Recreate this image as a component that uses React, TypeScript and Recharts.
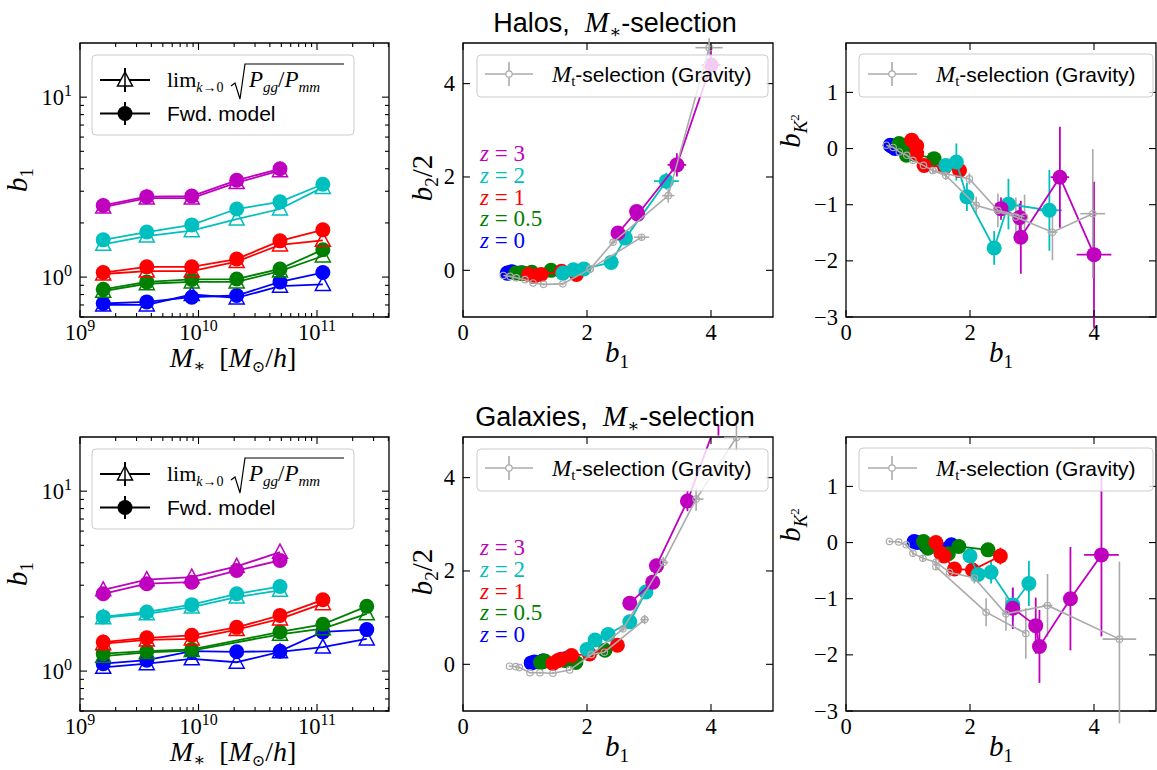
import React from 'react';
import { ScatterChart, Scatter, XAxis, YAxis, ErrorBar, ReferenceArea } from 'recharts';

const SERIF = '"Liberation Serif", "DejaVu Serif", serif';
const SANS = '"Liberation Sans", "DejaVu Sans", sans-serif';

const COLORS = {
  z0: '#0000ff',
  z05: '#008000',
  z1: '#ff0000',
  z2: '#00bfbf',
  z3: '#bf00bf',
  grav: '#aaaaaa',
};

// stellar mass bins [M_sun/h]
const HALO_M = [1.57e9, 3.66e9, 8.77e9, 2.1e10, 4.87e10, 1.12e11];
const GAL_M = [1.57e9, 3.66e9, 8.77e9, 2.1e10, 4.87e10, 1.12e11, 2.63e11];
const GAL_M_Z05 = [1.57e9, 3.66e9, 8.77e9, 4.87e10, 1.12e11, 2.63e11];

// ---- halos: b1 from forward model (dots) and lim sqrt(Pgg/Pmm) (triangles)
const haloB1_z0 = [0.713, 0.728, 0.773, 0.79, 0.94, 1.06];
const haloB1_z05 = [0.855, 0.94, 0.97, 0.975, 1.11, 1.42];
const haloB1_z1 = [1.06, 1.14, 1.14, 1.26, 1.59, 1.83];
const haloB1_z2 = [1.61, 1.78, 1.95, 2.39, 2.62, 3.28];
const haloB1_z3 = [2.5, 2.8, 2.82, 3.45, 4.0];
const haloPk_z0 = [0.7, 0.7, 0.8, 0.766, 0.89, 0.91];
const haloPk_z05 = [0.835, 0.918, 0.94, 0.94, 1.08, 1.31];
const haloPk_z1 = [1.04, 1.08, 1.08, 1.22, 1.51, 1.6];
const haloPk_z2 = [1.52, 1.69, 1.81, 2.1, 2.39, 3.15];
const haloPk_z3 = [2.45, 2.75, 2.75, 3.35, 3.9];

// halos: b2/2
const haloB2_z0 = [-0.06, -0.06, -0.04, -0.03, -0.05, -0.08];
const haloB2_z05 = [-0.06, -0.07, -0.06, -0.07, -0.04, 0.0];
const haloB2_z1 = [-0.09, -0.12, -0.13, -0.09, -0.02, -0.09];
const haloB2_z2 = [-0.06, 0.01, 0.03, 0.17, 0.69, 1.91];
const haloB2_z3 = [0.8, 1.26, 1.2, 2.26, 4.4];
const haloB2err_z2 = [0.02, 0.02, 0.03, 0.05, 0.08, 0.18];
const haloB2err_z3 = [0.06, 0.12, 0.12, 0.25, 0.35];
const haloB1err_z2 = [0.02, 0.02, 0.02, 0.03, 0.05, 0.2];
const haloB1err_z3 = [0.03, 0.04, 0.04, 0.15, 0.15];

// halos: b_K2
const haloBK_z0 = [0.06, 0.05, 0.02, 0.0, -0.02, -0.05];
const haloBK_z05 = [0.09, 0.06, -0.05, -0.12, -0.1, -0.18];
const haloBK_z1 = [0.15, 0.05, -0.09, -0.3, -0.33, -0.39];
const haloBK_z2 = [-0.3, -0.24, -0.86, -1.77, -0.99, -1.1];
const haloBK_z3 = [-1.07, -1.23, -1.58, -0.51, -1.89];
const haloBKerr_z0 = [0.04, 0.04, 0.05, 0.05, 0.06, 0.08];
const haloBKerr_z05 = [0.04, 0.05, 0.06, 0.07, 0.09, 0.11];
const haloBKerr_z1 = [0.05, 0.06, 0.07, 0.08, 0.1, 0.12];
const haloBKerr_z2 = [0.12, 0.33, 0.25, 0.3, 0.45, 0.72];
const haloBKerr_z3 = [0.2, 0.25, 0.65, 0.9, 1.3];
const haloBKxerr_z3 = [0.03, 0.04, 0.04, 0.15, 0.28];

// halos: M_t-selection (gravity only)
const gravHaloB1_a = [0.65, 0.76, 0.86, 1.0, 1.13, 1.3, 1.61, 2.05, 2.88];
const gravHaloB2_a = [-0.11, -0.13, -0.16, -0.2, -0.27, -0.3, -0.29, 0.03, 0.71];
const gravHaloB2err_a = [0.01, 0.01, 0.01, 0.01, 0.02, 0.02, 0.03, 0.03, 0.06];
const gravHaloB1err_a = [0.01, 0.01, 0.01, 0.01, 0.01, 0.02, 0.02, 0.03, 0.12];
const gravHaloB1_b = [2.05, 2.42, 3.31, 3.97];
const gravHaloB2_b = [0.03, 0.6, 1.6, 4.77];
const gravHaloB2err_b = [0.03, 0.05, 0.15, 0.2];
const gravHaloB1err_b = [0.02, 0.04, 0.1, 0.22];
const gravHaloKB1_a = [0.65, 0.76, 0.86, 0.98, 1.08, 1.25, 1.4, 1.61, 2.1, 2.74, 3.33, 3.98];
const gravHaloK_a = [0.06, 0.02, -0.06, -0.12, -0.21, -0.3, -0.39, -0.48, -1.01, -1.22, -1.49, -1.16];
const gravHaloKerr_a = [0.02, 0.02, 0.03, 0.03, 0.04, 0.05, 0.06, 0.08, 0.15, 0.35, 0.5, 1.15];
const gravHaloKxerr_a = [0.01, 0.01, 0.01, 0.01, 0.01, 0.01, 0.02, 0.02, 0.03, 0.05, 0.08, 0.2];
const gravHaloKB1_b = [1.4, 1.99, 2.45, 2.88];
const gravHaloK_b = [-0.39, -0.54, -1.1, -1.22];
const gravHaloKerr_b = [0.06, 0.1, 0.3, 0.4];

// ---- galaxies: b1
const galB1_z0 = [1.1, 1.15, 1.29, 1.28, 1.29, 1.65, 1.7];
const galB1_z05 = [1.25, 1.29, 1.32, 1.65, 1.82, 2.29];
const galB1_z1 = [1.45, 1.53, 1.58, 1.75, 2.04, 2.49];
const galB1_z2 = [2.0, 2.13, 2.34, 2.69, 2.95];
const galB1_z3 = [2.69, 3.06, 3.12, 3.62, 4.12];
const galPk_z0 = [1.05, 1.1, 1.17, 1.12, 1.28, 1.36, 1.51];
const galPk_z05 = [1.21, 1.27, 1.3, 1.6, 1.72, 2.08];
const galPk_z1 = [1.42, 1.49, 1.51, 1.7, 1.95, 2.37];
const galPk_z2 = [1.98, 2.08, 2.27, 2.58, 2.81];
const galPk_z3 = [2.83, 3.22, 3.33, 3.82, 4.58];

// galaxies: b2/2
const galB2_z0 = [0.03, 0.05, 0.07, 0.06, 0.07, 0.12, 0.1];
const galB2_z05 = [0.04, 0.06, 0.07, 0.08, 0.04, 0.3];
const galB2_z1 = [0.02, 0.08, 0.11, 0.19, 0.22, 0.41];
const galB2_z2 = [0.32, 0.52, 0.64, 0.91, 1.55];
const galB2_z3 = [1.31, 1.76, 2.11, 3.5, 5.3];
const galB2err_z2 = [0.03, 0.04, 0.05, 0.07, 0.1];
const galB2err_z3 = [0.08, 0.1, 0.15, 0.22, 0.4];
const galB1err_z3 = [0.03, 0.04, 0.04, 0.08, 0.15];

// galaxies: b_K2
const galBK_z0 = [0.02, 0.0, -0.05, -0.03, -0.06, -0.1, -0.04];
const galBK_z05 = [0.02, -0.04, -0.1, -0.2, -0.07, -0.13];
const galBK_z1 = [0.0, -0.19, -0.24, -0.47, -0.49, -0.24];
const galBK_z2 = [-0.24, -0.57, -0.53, -1.11, -0.73];
const galBK_z3 = [-1.17, -1.48, -1.85, -1.0, -0.22];
const galBKerr_z0 = [0.03, 0.04, 0.04, 0.05, 0.05, 0.07, 0.08];
const galBKerr_z05 = [0.04, 0.05, 0.06, 0.08, 0.08, 0.12];
const galBKerr_z1 = [0.05, 0.06, 0.07, 0.08, 0.1, 0.15];
const galBKerr_z2 = [0.1, 0.15, 0.2, 0.3, 0.4];
const galBKerr_z3 = [0.37, 0.5, 0.65, 0.92, 1.45];
const galBKxerr_z3 = [0.04, 0.05, 0.05, 0.1, 0.28];

// galaxies: M_t-selection (gravity only)
const gravGalB1_a = [0.75, 0.85, 0.91, 1.08, 1.24, 1.45, 1.72, 2.07, 2.28, 2.93];
const gravGalB2_a = [-0.04, -0.05, -0.07, -0.18, -0.18, -0.19, -0.12, 0.21, 0.26, 0.96];
const gravGalB2err_a = [0.01, 0.01, 0.01, 0.01, 0.02, 0.02, 0.02, 0.03, 0.04, 0.1];
const gravGalB1err_a = [0.01, 0.01, 0.01, 0.01, 0.01, 0.02, 0.02, 0.02, 0.03, 0.07];
const gravGalB1_b = [2.07, 2.58, 3.23, 3.76, 4.41];
const gravGalB2_b = [0.21, 0.76, 2.18, 3.54, 4.86];
const gravGalB2err_b = [0.03, 0.06, 0.12, 0.25, 0.3];
const gravGalB1err_b = [0.02, 0.04, 0.08, 0.12, 0.2];
const gravGalKB1_a = [0.7, 0.85, 0.97, 1.08, 1.24, 1.45, 1.67, 2.07, 2.58, 3.25, 4.41];
const gravGalK_a = [0.02, 0.01, -0.04, -0.19, -0.28, -0.35, -0.53, -0.63, -1.27, -1.12, -1.72];
const gravGalKerr_a = [0.02, 0.02, 0.03, 0.04, 0.05, 0.06, 0.08, 0.1, 0.3, 0.56, [1.5, 1.38]];
const gravGalKxerr_a = [0.01, 0.01, 0.01, 0.01, 0.01, 0.02, 0.02, 0.03, 0.05, 0.08, 0.27];
const gravGalKB1_b = [1.45, 2.26, 2.9];
const gravGalK_b = [-0.43, -1.24, -1.62];
const gravGalKerr_b = [0.06, 0.25, 0.45];

// axis ticks
const LOG_X_TICKS = [1e9, 2e9, 3e9, 4e9, 5e9, 6e9, 7e9, 8e9, 9e9, 1e10, 2e10, 3e10, 4e10, 5e10, 6e10, 7e10, 8e10, 9e10, 1e11, 2e11, 3e11, 4e11];
const LOG_Y_TICKS = [0.6, 0.7, 0.8, 0.9, 1, 2, 3, 4, 5, 6, 7, 8, 9, 10];
const B1_TICKS = [0, 2, 4];
const B2_TICKS = [0, 2, 4];
const BK_TICKS = [-3, -2, -1, 0, 1];

type Pt = { x: number; y: number; ex: any; ey: any };
type Spec = { data: Pt[]; color: string; marker: 'dot' | 'tri' | 'ring'; lw: number; errX?: boolean; errY?: boolean };

const pts = (xs: number[], ys: number[], ey?: any[], ex?: number[]): Pt[] =>
  ys.map((y, i) => ({ x: xs[i], y, ey: ey ? ey[i] : 0, ex: ex ? ex[i] : 0 }));

const markerFor = (s: Spec) => (p: any) => {
  const { cx, cy } = p;
  if (cx == null || cy == null) return <g />;
  if (s.marker === 'dot') return <circle cx={cx} cy={cy} r={7.5} fill={s.color} />;
  if (s.marker === 'ring') return <circle cx={cx} cy={cy} r={3.2} fill="none" stroke={s.color} strokeWidth={1.2} />;
  return (
    <polygon
      points={`${cx},${cy - 8} ${cx - 7.5},${cy + 6} ${cx + 7.5},${cy + 6}`}
      fill="none"
      stroke={s.color}
      strokeWidth={1.5}
    />
  );
};

const TICK = { stroke: '#000', strokeWidth: 1.1 };
const TICK_FONT = 22.5;

const pow10Label = (v: number) => {
  const e = Math.log10(v);
  if (Math.abs(e - Math.round(e)) > 1e-6) return null;
  return (
    <>
      <tspan>10</tspan>
      <tspan dy={-9} fontSize={16}>{Math.round(e)}</tspan>
    </>
  );
};
const numLabel = (v: number) => (v < 0 ? `\u2212${Math.abs(v)}` : `${v}`);

const xTick = (h: number, fmt: (v: number) => any) => (p: any) => {
  const v = p.payload.value;
  const lab = fmt(v);
  const L = lab !== null ? 7 : 4;
  return (
    <g>
      <line x1={p.x} x2={p.x} y1={p.y} y2={p.y - L} {...TICK} />
      <line x1={p.x} x2={p.x} y1={p.y - h} y2={p.y - h + L} {...TICK} />
      {lab !== null && (
        <text x={p.x} y={p.y + 23} textAnchor="middle" fontFamily={SERIF} fontSize={TICK_FONT} fill="#000">
          {lab}
        </text>
      )}
    </g>
  );
};

const yTick = (w: number, fmt: (v: number) => any) => (p: any) => {
  const v = p.payload.value;
  const lab = fmt(v);
  const L = lab !== null ? 7 : 4;
  return (
    <g>
      <line x1={p.x} x2={p.x + L} y1={p.y} y2={p.y} {...TICK} />
      <line x1={p.x + w} x2={p.x + w - L} y1={p.y} y2={p.y} {...TICK} />
      {lab !== null && (
        <text x={p.x - 8} y={p.y + 7.5} textAnchor="end" fontFamily={SERIF} fontSize={TICK_FONT} fill="#000">
          {lab}
        </text>
      )}
    </g>
  );
};

interface PanelProps {
  left: number;
  top: number;
  w: number;
  h: number;
  xDomain: [number, number];
  yDomain: [number, number];
  log?: boolean;
  xTicks: number[];
  yTicks: number[];
  series: Spec[];
}

const ML = 75;
const MT = 12;
const MR = 12;
const MB = 40;

const Panel: React.FC<PanelProps> = ({ left, top, w, h, xDomain, yDomain, log, xTicks, yTicks, series }) => (
  <div style={{ position: 'absolute', left: left - ML, top: top - MT }}>
    <ScatterChart width={w + ML + MR} height={h + MT + MB} margin={{ top: MT, right: MR, bottom: 0, left: 0 }}>
      <XAxis
        type="number"
        dataKey="x"
        scale={log ? 'log' : 'linear'}
        domain={xDomain}
        allowDataOverflow
        ticks={xTicks}
        interval={0}
        height={MB}
        axisLine={false}
        tickLine={false}
        tickSize={0}
        tickMargin={0}
        tick={xTick(h, log ? pow10Label : numLabel)}
      />
      <YAxis
        type="number"
        dataKey="y"
        scale={log ? 'log' : 'linear'}
        domain={yDomain}
        allowDataOverflow
        ticks={yTicks}
        interval={0}
        width={ML}
        axisLine={false}
        tickLine={false}
        tickSize={0}
        tickMargin={0}
        tick={yTick(w, log ? pow10Label : numLabel)}
      />
      {series.map((s, i) => (
        <Scatter
          key={i}
          data={s.data}
          fill={s.color}
          isAnimationActive={false}
          line={{ stroke: s.color, strokeWidth: s.lw }}
          lineType="joint"
          shape={markerFor(s)}
        >
          {s.errY && <ErrorBar dataKey="ey" direction="y" width={0} stroke={s.color} strokeWidth={s.lw} />}
          {s.errX && <ErrorBar dataKey="ex" direction="x" width={0} stroke={s.color} strokeWidth={s.lw} />}
        </Scatter>
      ))}
      <ReferenceArea
        x1={xDomain[0]}
        x2={xDomain[1]}
        y1={yDomain[0]}
        y2={yDomain[1]}
        fill="none"
        fillOpacity={0}
        stroke="#000"
        strokeWidth={1.3}
      />
    </ScatterChart>
  </div>
);

const dots = (xs: number[], ys: number[], color: string, ey?: any[], ex?: number[]): Spec => ({
  data: pts(xs, ys, ey, ex),
  color,
  marker: 'dot',
  lw: 1.8,
  errY: !!ey,
  errX: !!ex,
});
const tris = (xs: number[], ys: number[], color: string): Spec => ({ data: pts(xs, ys), color, marker: 'tri', lw: 1.8 });
const grav = (xs: number[], ys: number[], ey?: any[], ex?: number[]): Spec => ({
  data: pts(xs, ys, ey, ex),
  color: COLORS.grav,
  marker: 'ring',
  lw: 1.6,
  errY: !!ey,
  errX: !!ex,
});

const LOG_X: [number, number] = [1e9, 4.05e11];
const LOG_Y: [number, number] = [0.6, 20];
const B1_DOM: [number, number] = [0, 5];
const B2_DOM: [number, number] = [-1, 4.87];
const BK_DOM: [number, number] = [-3, 1.88];

const haloLeft: Spec[] = [
  tris(HALO_M, haloPk_z0, COLORS.z0),
  dots(HALO_M, haloB1_z0, COLORS.z0),
  tris(HALO_M, haloPk_z05, COLORS.z05),
  dots(HALO_M, haloB1_z05, COLORS.z05),
  tris(HALO_M, haloPk_z1, COLORS.z1),
  dots(HALO_M, haloB1_z1, COLORS.z1),
  tris(HALO_M, haloPk_z2, COLORS.z2),
  dots(HALO_M, haloB1_z2, COLORS.z2),
  tris(HALO_M, haloPk_z3, COLORS.z3),
  dots(HALO_M, haloB1_z3, COLORS.z3),
];

const galLeft: Spec[] = [
  tris(GAL_M, galPk_z0, COLORS.z0),
  dots(GAL_M, galB1_z0, COLORS.z0),
  tris(GAL_M_Z05, galPk_z05, COLORS.z05),
  dots(GAL_M_Z05, galB1_z05, COLORS.z05),
  tris(GAL_M, galPk_z1, COLORS.z1),
  dots(GAL_M, galB1_z1, COLORS.z1),
  tris(GAL_M, galPk_z2, COLORS.z2),
  dots(GAL_M, galB1_z2, COLORS.z2),
  tris(GAL_M, galPk_z3, COLORS.z3),
  dots(GAL_M, galB1_z3, COLORS.z3),
];

const haloMid: Spec[] = [
  dots(haloB1_z0, haloB2_z0, COLORS.z0),
  dots(haloB1_z05, haloB2_z05, COLORS.z05),
  dots(haloB1_z1, haloB2_z1, COLORS.z1),
  dots(haloB1_z2, haloB2_z2, COLORS.z2, haloB2err_z2, haloB1err_z2),
  dots(haloB1_z3, haloB2_z3, COLORS.z3, haloB2err_z3, haloB1err_z3),
  grav(gravHaloB1_a, gravHaloB2_a, gravHaloB2err_a, gravHaloB1err_a),
  grav(gravHaloB1_b, gravHaloB2_b, gravHaloB2err_b, gravHaloB1err_b),
];

const haloRight: Spec[] = [
  dots(haloB1_z0, haloBK_z0, COLORS.z0, haloBKerr_z0),
  dots(haloB1_z05, haloBK_z05, COLORS.z05, haloBKerr_z05),
  dots(haloB1_z1, haloBK_z1, COLORS.z1, haloBKerr_z1),
  dots(haloB1_z2, haloBK_z2, COLORS.z2, haloBKerr_z2, haloB1err_z2),
  dots(haloB1_z3, haloBK_z3, COLORS.z3, haloBKerr_z3, haloBKxerr_z3),
  grav(gravHaloKB1_a, gravHaloK_a, gravHaloKerr_a, gravHaloKxerr_a),
  grav(gravHaloKB1_b, gravHaloK_b, gravHaloKerr_b),
];

const galMid: Spec[] = [
  dots(galB1_z0, galB2_z0, COLORS.z0),
  dots(galB1_z05, galB2_z05, COLORS.z05),
  dots(galB1_z1, galB2_z1, COLORS.z1),
  dots(galB1_z2, galB2_z2, COLORS.z2, galB2err_z2),
  dots(galB1_z3, galB2_z3, COLORS.z3, galB2err_z3, galB1err_z3),
  grav(gravGalB1_a, gravGalB2_a, gravGalB2err_a, gravGalB1err_a),
  grav(gravGalB1_b, gravGalB2_b, gravGalB2err_b, gravGalB1err_b),
];

const galRight: Spec[] = [
  dots(galB1_z0, galBK_z0, COLORS.z0, galBKerr_z0),
  dots(galB1_z05, galBK_z05, COLORS.z05, galBKerr_z05),
  dots(galB1_z1, galBK_z1, COLORS.z1, galBKerr_z1),
  dots(galB1_z2, galBK_z2, COLORS.z2, galBKerr_z2),
  dots(galB1_z3, galBK_z3, COLORS.z3, galBKerr_z3, galBKxerr_z3),
  grav(gravGalKB1_a, gravGalK_a, gravGalKerr_a, gravGalKxerr_a),
  grav(gravGalKB1_b, gravGalK_b, gravGalKerr_b),
];

const Z_LABELS = [
  { t: '3', c: COLORS.z3 },
  { t: '2', c: COLORS.z2 },
  { t: '1', c: COLORS.z1 },
  { t: '0.5', c: COLORS.z05 },
  { t: '0', c: COLORS.z0 },
];

const LEGEND_BOX = { fill: '#fff', fillOpacity: 0.8, stroke: '#cccccc', strokeWidth: 1 };

// annotations for one row of panels, dy = vertical offset of the row
const RowOverlay: React.FC<{ dy: number; title: string }> = ({ dy, title }) => (
  <g transform={`translate(0, ${dy})`}>
    {/* title */}
    <text x={615} y={32} textAnchor="middle" fontSize={27} fontFamily={SANS} fill="#000">
      {title},{'\u00a0\u00a0'}
      <tspan fontFamily={SERIF} fontStyle="italic" fontSize={29}>M</tspan>
      <tspan fontFamily={SERIF} fontSize={18} dy={6}>{'\u2217'}</tspan>
      <tspan dy={-6}>-selection</tspan>
    </text>

    {/* axis labels, left panel */}
    <text x={233} y={367} textAnchor="middle" fontFamily={SERIF} fontSize={28} fill="#000">
      <tspan fontStyle="italic">M</tspan>
      <tspan fontSize={18} dy={5}>{'\u2217'}</tspan>
      <tspan dy={-5}>{'\u00a0\u00a0['}</tspan>
      <tspan fontStyle="italic">M</tspan>
      <tspan fontSize={16} dy={5}>{'\u2299'}</tspan>
      <tspan dy={-5}>/</tspan>
      <tspan fontStyle="italic">h</tspan>
      <tspan>]</tspan>
    </text>
    <text x={27} y={180} transform="rotate(-90 27 180)" textAnchor="middle" fontFamily={SERIF} fontSize={29} fill="#000">
      <tspan fontStyle="italic">b</tspan>
      <tspan fontSize={19} dy={6}>1</tspan>
    </text>

    {/* middle panel */}
    <text x={617} y={362} textAnchor="middle" fontFamily={SERIF} fontSize={29} fill="#000">
      <tspan fontStyle="italic">b</tspan>
      <tspan fontSize={19} dy={6}>1</tspan>
    </text>
    <text x={432} y={178} transform="rotate(-90 432 178)" textAnchor="middle" fontFamily={SERIF} fontSize={29} fill="#000">
      <tspan fontStyle="italic">b</tspan>
      <tspan fontSize={19} dy={6}>2</tspan>
      <tspan dy={-6}>/2</tspan>
    </text>

    {/* right panel */}
    <text x={1001} y={362} textAnchor="middle" fontFamily={SERIF} fontSize={29} fill="#000">
      <tspan fontStyle="italic">b</tspan>
      <tspan fontSize={19} dy={6}>1</tspan>
    </text>
    <text x={800} y={131} transform="rotate(-90 800 131)" textAnchor="middle" fontFamily={SERIF} fontSize={29} fill="#000">
      <tspan fontStyle="italic">b</tspan>
      <tspan fontSize={19} fontStyle="italic" dy={7}>K</tspan>
      <tspan fontSize={13} dy={-8}>2</tspan>
    </text>

    {/* redshift labels */}
    {Z_LABELS.map((z, i) => (
      <text key={z.t} x={480} y={161 + i * 21.8} fontFamily={SERIF} fontSize={23} fill={z.c}>
        <tspan fontStyle="italic">z</tspan>
        <tspan>{` = ${z.t}`}</tspan>
      </text>
    ))}

    {/* legend, left panel */}
    <rect x={92} y={55} width={262} height={80} rx={4} {...LEGEND_BOX} />
    <line x1={100} x2={150} y1={80} y2={80} stroke="#000" strokeWidth={2} />
    <line x1={125} x2={125} y1={68} y2={92} stroke="#000" strokeWidth={2} />
    <polygon points="125,72 117.5,86 132.5,86" fill="#fff" stroke="#000" strokeWidth={1.5} />
    <line x1={125} x2={125} y1={72} y2={92} stroke="#000" strokeWidth={1.5} />
    <text x={167} y={87} fontFamily={SERIF} fontSize={22} fill="#000">
      <tspan>lim</tspan>
      <tspan fontSize={14} dy={5}>
        <tspan fontStyle="italic">k</tspan>
        {'\u21920'}
      </tspan>
    </text>
    <path d="M231,86 L235,83 L240,99 L245,64 L344,64" fill="none" stroke="#000" strokeWidth={1.2} />
    <text x={249} y={87} fontFamily={SERIF} fontSize={23} fill="#000">
      <tspan fontStyle="italic">P</tspan>
      <tspan fontSize={15} fontStyle="italic" dy={5}>gg</tspan>
      <tspan dy={-5}>/</tspan>
      <tspan fontStyle="italic">P</tspan>
      <tspan fontSize={15} fontStyle="italic" dy={5}>mm</tspan>
    </text>
    <line x1={100} x2={150} y1={113.5} y2={113.5} stroke="#000" strokeWidth={2} />
    <line x1={125} x2={125} y1={102} y2={125} stroke="#000" strokeWidth={2} />
    <circle cx={125} cy={113.5} r={7.5} fill="#000" />
    <text x={167} y={121} fontFamily={SANS} fontSize={21} fill="#000">Fwd. model</text>

    {/* legend, middle panel */}
    <rect x={477} y={55} width={291} height={42} rx={4} {...LEGEND_BOX} />
    <line x1={485} x2={533} y1={74} y2={74} stroke={COLORS.grav} strokeWidth={1.6} />
    <line x1={509} x2={509} y1={62} y2={86} stroke={COLORS.grav} strokeWidth={1.6} />
    <circle cx={509} cy={74} r={3.2} fill="#fff" stroke={COLORS.grav} strokeWidth={1.2} />
    <text x={552} y={82} fontFamily={SANS} fontSize={21} fill="#000">
      <tspan fontFamily={SERIF} fontStyle="italic" fontSize={23}>M</tspan>
      <tspan fontFamily={SERIF} fontSize={15} dy={4}>t</tspan>
      <tspan dy={-4}>-selection (Gravity)</tspan>
    </text>

    {/* legend, right panel */}
    <rect x={859} y={54} width={294} height={43} rx={4} {...LEGEND_BOX} />
    <line x1={868} x2={917} y1={74} y2={74} stroke={COLORS.grav} strokeWidth={1.6} />
    <line x1={892} x2={892} y1={62} y2={86} stroke={COLORS.grav} strokeWidth={1.6} />
    <circle cx={892} cy={74} r={3.2} fill="#fff" stroke={COLORS.grav} strokeWidth={1.2} />
    <text x={936} y={82} fontFamily={SANS} fontSize={21} fill="#000">
      <tspan fontFamily={SERIF} fontStyle="italic" fontSize={23}>M</tspan>
      <tspan fontFamily={SERIF} fontSize={15} dy={4}>t</tspan>
      <tspan dy={-4}>-selection (Gravity)</tspan>
    </text>
  </g>
);

const ROW2 = 394;

export default function App() {
  return (
    <div style={{ position: 'absolute', left: 0, top: 0, width: 1157, height: 770, overflow: 'hidden', background: '#fff' }}>
      <Panel left={80} top={43} w={309} h={274} xDomain={LOG_X} yDomain={LOG_Y} log xTicks={LOG_X_TICKS} yTicks={LOG_Y_TICKS} series={haloLeft} />
      <Panel left={463} top={43} w={310} h={274} xDomain={B1_DOM} yDomain={B2_DOM} xTicks={B1_TICKS} yTicks={B2_TICKS} series={haloMid} />
      <Panel left={846} top={43} w={310} h={274} xDomain={B1_DOM} yDomain={BK_DOM} xTicks={B1_TICKS} yTicks={BK_TICKS} series={haloRight} />
      <Panel left={80} top={43 + ROW2} w={309} h={274} xDomain={LOG_X} yDomain={LOG_Y} log xTicks={LOG_X_TICKS} yTicks={LOG_Y_TICKS} series={galLeft} />
      <Panel left={463} top={43 + ROW2} w={310} h={274} xDomain={B1_DOM} yDomain={B2_DOM} xTicks={B1_TICKS} yTicks={B2_TICKS} series={galMid} />
      <Panel left={846} top={43 + ROW2} w={310} h={274} xDomain={B1_DOM} yDomain={BK_DOM} xTicks={B1_TICKS} yTicks={BK_TICKS} series={galRight} />
      <svg width={1157} height={770} style={{ position: 'absolute', left: 0, top: 0, pointerEvents: 'none' }}>
        <RowOverlay dy={0} title="Halos" />
        <RowOverlay dy={ROW2} title="Galaxies" />
      </svg>
    </div>
  );
}
